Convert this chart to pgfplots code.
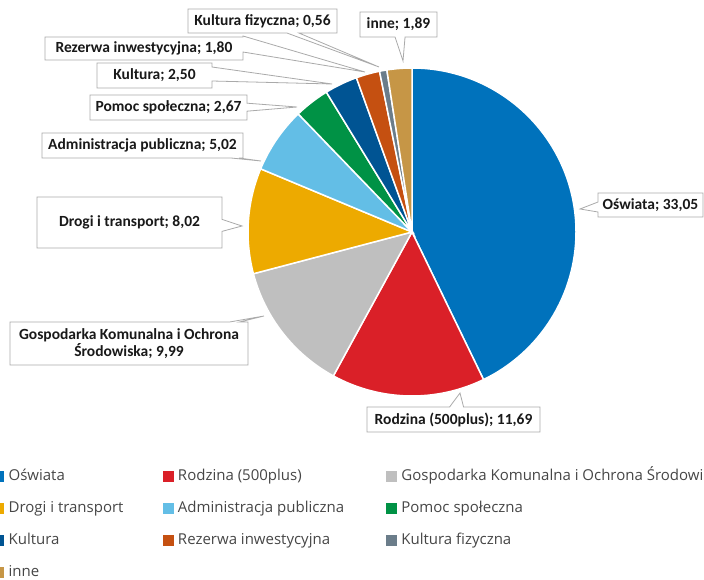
\documentclass[border=0pt]{standalone}
\usepackage{fontspec}
\usepackage{pgfplots}
\usepackage{pgfplotstable}
\pgfplotsset{compat=1.18}
\usetikzlibrary{shapes.callouts}
\setmainfont{Carlito}
\newfontfamily\legfont{Open Sans}
\newcommand\lblfont{\fontsize{15.5}{17}\selectfont\bfseries}

\definecolor{c0}{RGB}{0,114,188}
\definecolor{c1}{RGB}{218,32,40}
\definecolor{c2}{RGB}{191,191,191}
\definecolor{c3}{RGB}{237,170,0}
\definecolor{c4}{RGB}{99,190,230}
\definecolor{c5}{RGB}{0,146,69}
\definecolor{c6}{RGB}{0,84,147}
\definecolor{c7}{RGB}{197,80,17}
\definecolor{c8}{RGB}{107,125,138}
\definecolor{c9}{RGB}{198,150,70}
\definecolor{lblborder}{RGB}{170,170,170}
\definecolor{lbltext}{RGB}{25,25,25}
\definecolor{legtext}{RGB}{70,70,70}

% values in the order of the slices (clockwise from 12 o'clock)
\pgfplotstableread{
id value
0 33.05
1 11.69
2 9.99
3 8.02
4 5.02
5 2.67
6 2.50
7 1.80
8 0.56
9 1.89
}\piedata

\def\pietotal{0}%
\pgfplotsforeachungrouped \i in {0,...,9}{%
  \pgfplotstablegetelem{\i}{value}\of\piedata
  \pgfmathsetmacro\pietotal{\pietotal+\pgfplotsretval}%
}%
\def\piecum{0}%
\pgfplotsforeachungrouped \i in {0,...,9}{%
  \pgfplotstablegetelem{\i}{value}\of\piedata
  \pgfmathsetmacro\pieS{90-\piecum/\pietotal*360}%
  \pgfmathsetmacro\piecumnew{\piecum+\pgfplotsretval}%
  \pgfmathsetmacro\pieE{90-\piecumnew/\pietotal*360}%
  \expandafter\xdef\csname angS\i\endcsname{\pieS}%
  \expandafter\xdef\csname angE\i\endcsname{\pieE}%
  \xdef\piecum{\piecumnew}%
}%

\tikzset{lbl/.style={rectangle callout, draw=lblborder, fill=white, line width=0.8pt,
  text=lbltext, font=\lblfont, inner sep=0pt, align=center}}

\begin{document}
\begin{tikzpicture}
\begin{axis}[x=1pt, y=1pt, y dir=reverse,
  xmin=0, xmax=704, ymin=0, ymax=580,
  hide axis, scale only axis, clip=false,
  at={(0,0)}, anchor=south west,
  legend columns=3,
  legend cell align=left,
  legend style={at={(axis cs:-7,468)}, anchor=north west, draw=none, fill=none,
    inner sep=0pt, row sep=16pt,
    nodes={inner sep=0pt, text height=12pt, text depth=4pt},
    font=\legfont\fontsize{15}{18}\selectfont, text=legtext},
]
% pie slices
\pgfplotsinvokeforeach{0,...,9}{%
  \edef\tmp{\noexpand\fill[c#1, draw=white, line width=1.5pt] (axis cs:412,232) -- ++(\csname angS#1\endcsname:164pt) arc[start angle=\csname angS#1\endcsname, end angle=\csname angE#1\endcsname, radius=164pt] -- cycle;}%
  \tmp
}
% legend
\addlegendimage{legend image code/.code={\fill[c0] (0pt,-5pt) rectangle (10pt,5pt); \path (15pt,0pt);}}
\addlegendentry{\makebox[154pt][l]{Oświata}}
\addlegendimage{legend image code/.code={\fill[c1] (0pt,-5pt) rectangle (10pt,5pt); \path (15pt,0pt);}}
\addlegendentry{\makebox[208pt][l]{Rodzina (500plus)}}
\addlegendimage{legend image code/.code={\fill[c2] (0pt,-5pt) rectangle (10pt,5pt); \path (15pt,0pt);}}
\addlegendentry{Gospodarka Komunalna i Ochrona Środowiska}
\addlegendimage{legend image code/.code={\fill[c3] (0pt,-5pt) rectangle (10pt,5pt); \path (15pt,0pt);}}
\addlegendentry{\makebox[154pt][l]{Drogi i transport}}
\addlegendimage{legend image code/.code={\fill[c4] (0pt,-5pt) rectangle (10pt,5pt); \path (15pt,0pt);}}
\addlegendentry{\makebox[208pt][l]{Administracja publiczna}}
\addlegendimage{legend image code/.code={\fill[c5] (0pt,-5pt) rectangle (10pt,5pt); \path (15pt,0pt);}}
\addlegendentry{Pomoc społeczna}
\addlegendimage{legend image code/.code={\fill[c6] (0pt,-5pt) rectangle (10pt,5pt); \path (15pt,0pt);}}
\addlegendentry{\makebox[154pt][l]{Kultura}}
\addlegendimage{legend image code/.code={\fill[c7] (0pt,-5pt) rectangle (10pt,5pt); \path (15pt,0pt);}}
\addlegendentry{\makebox[208pt][l]{Rezerwa inwestycyjna}}
\addlegendimage{legend image code/.code={\fill[c8] (0pt,-5pt) rectangle (10pt,5pt); \path (15pt,0pt);}}
\addlegendentry{Kultura fizyczna}
\addlegendimage{legend image code/.code={\fill[c9] (0pt,-5pt) rectangle (10pt,5pt); \path (15pt,0pt);}}
\addlegendentry{\makebox[154pt][l]{inne}}

% data labels
\node[lbl, minimum width=149pt, minimum height=24pt, callout pointer width=12pt,
  callout absolute pointer={(axis cs:379,67)}] at (axis cs:262.5,21) {Kultura fizyczna; 0,56};
\node[lbl, minimum width=77pt, minimum height=25pt, callout pointer width=10pt,
  callout absolute pointer={(axis cs:403,61)}] at (axis cs:398.5,24.5) {inne; 1,89};
\node[lbl, minimum width=198pt, minimum height=23pt, callout pointer width=16pt,
  callout absolute pointer={(axis cs:365,72)}] at (axis cs:144,48.5) {Rezerwa inwestycyjna; 1,80};
\node[lbl, minimum width=115pt, minimum height=25pt, callout pointer width=14pt,
  callout absolute pointer={(axis cs:332,84)}] at (axis cs:154.5,75.5) {Kultura; 2,50};
\node[lbl, minimum width=157pt, minimum height=25pt, callout pointer width=8pt,
  callout absolute pointer={(axis cs:297,107)}] at (axis cs:168.5,107.5) {Pomoc społeczna; 2,67};
\node[lbl, minimum width=201pt, minimum height=25pt, callout pointer width=8pt,
  callout absolute pointer={(axis cs:261,161)}] at (axis cs:142.5,145.5) {Administracja publiczna; 5,02};
\node[lbl, minimum width=185pt, minimum height=51pt, callout pointer width=12pt,
  callout absolute pointer={(axis cs:242,226)}] at (axis cs:129.5,222.5) {Drogi i transport; 8,02};
\node[lbl, minimum width=238pt, minimum height=43pt, callout pointer width=10pt,
  callout absolute pointer={(axis cs:264,316)}] at (axis cs:129,343.5) {Gospodarka Komunalna i Ochrona\\Środowiska; 9,99};
\node[lbl, minimum width=173pt, minimum height=25pt, callout pointer width=14pt,
  callout absolute pointer={(axis cs:460,393)}] at (axis cs:453.5,419.5) {Rodzina (500plus); 11,69};
\node[lbl, minimum width=105pt, minimum height=24pt, callout pointer width=10pt,
  callout absolute pointer={(axis cs:580,209)}] at (axis cs:650.5,205) {Oświata; 33,05};
\end{axis}
\pgfresetboundingbox
\path (current axis.south west) rectangle (current axis.north east);
\end{tikzpicture}
\end{document}
